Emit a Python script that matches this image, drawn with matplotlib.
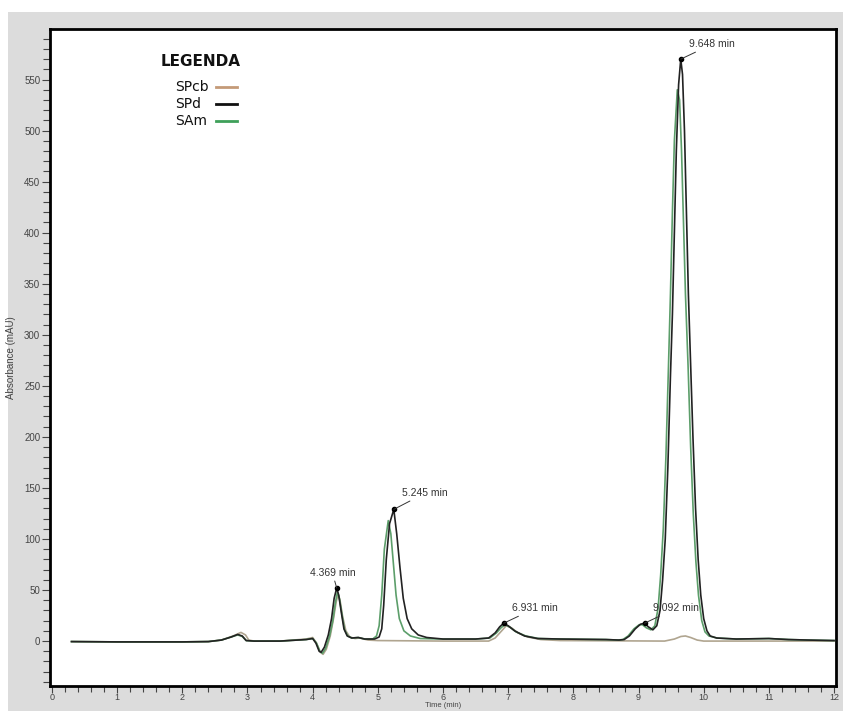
import matplotlib
matplotlib.use("Agg")
from matplotlib import pyplot as plt
from matplotlib.patches import Rectangle

# chromatogram traces (time in min, absorbance in mAU)
spd_t = [0.30, 1.0, 2.0, 2.4, 2.6, 2.75, 2.85, 2.92, 2.98, 3.1, 3.5, 3.9, 4.0, 4.05, 4.1, 4.13,
         4.18, 4.24, 4.29, 4.33, 4.369, 4.40, 4.44, 4.48, 4.53, 4.6, 4.7, 4.8, 4.95, 5.02, 5.06,
         5.09, 5.13, 5.18, 5.245, 5.29, 5.34, 5.39, 5.45, 5.52, 5.62, 5.75, 6.0, 6.5, 6.7, 6.8,
         6.87, 6.931, 7.0, 7.1, 7.25, 7.45, 7.8, 8.5, 8.7, 8.78, 8.86, 8.95, 9.03, 9.092, 9.15,
         9.22, 9.28, 9.33, 9.37, 9.41, 9.45, 9.49, 9.52, 9.55, 9.58, 9.615, 9.648, 9.675, 9.705,
         9.735, 9.765, 9.795, 9.835, 9.875, 9.915, 9.955, 10.0, 10.05, 10.1, 10.2, 10.5, 11.0, 11.3,
         11.6, 12.0]
spd_v = [-0.5, -0.8, -0.8, -0.5, 1, 4, 6.5, 5, 0.5, 0, 0, 1.5, 2.5, -2, -10, -11,
         -6, 6, 22, 42, 52, 45, 28, 12, 5, 3, 3.5, 2, 2, 4, 12,
         35, 80, 115, 129, 105, 72, 42, 22, 12, 6, 3.5, 2, 2, 3, 8,
         14, 17.5, 15, 10, 5, 2.5, 2, 1.5, 1, 1.5, 5, 12, 16.5, 17.5, 14,
         11, 15, 30, 60, 100, 170, 260, 320, 400, 480, 545, 570, 555, 500,
         420, 340, 280, 200, 130, 80, 45, 22, 10, 5, 3, 2, 2.5, 1.5,
         1, 0.5]

sam_t = [0.30, 1.0, 2.0, 2.4, 2.6, 2.75, 2.85, 2.92, 2.98, 3.1, 3.5, 3.9, 4.0, 4.06, 4.11, 4.15,
         4.20, 4.26, 4.31, 4.35, 4.38, 4.41, 4.45, 4.49, 4.54, 4.6, 4.7, 4.8, 4.92, 4.98, 5.02,
         5.06, 5.10, 5.16, 5.20, 5.24, 5.28, 5.33, 5.4, 5.5, 5.65, 6.0, 6.5, 6.72, 6.82, 6.89,
         6.95, 7.02, 7.12, 7.27, 7.47, 7.8, 8.5, 8.68, 8.76, 8.84, 8.93, 9.01, 9.06, 9.12,
         9.19, 9.25, 9.30, 9.34, 9.38, 9.42, 9.46, 9.49, 9.52, 9.55, 9.595, 9.63, 9.66, 9.69,
         9.72, 9.76, 9.80, 9.84, 9.88, 9.92, 9.97, 10.02, 10.08, 10.2, 10.5, 11.0, 11.3,
         11.6, 12.0]
sam_v = [-0.5, -0.8, -0.8, -0.5, 1, 4, 6, 4.5, 0.5, 0, 0, 1.5, 2.5, -2, -10, -12,
         -7, 5, 20, 38, 48, 42, 26, 11, 5, 3, 3.5, 2, 2, 5, 15,
         45, 90, 118, 105, 75, 45, 22, 10, 5, 2.5, 2, 2, 3, 8, 13,
         16, 14, 9, 5, 2.5, 2, 1.5, 1, 1.5, 5, 12, 16, 16, 13,
         11, 15, 32, 65, 110, 180, 270, 340, 420, 490, 540, 530, 480, 410,
         340, 270, 190, 125, 78, 45, 20, 9, 5, 3, 2, 2.5, 1.5,
         1, 0.5]

spcb_t = [0.30, 1.0, 2.0, 2.4, 2.6, 2.78, 2.9, 2.97, 3.02, 3.1, 3.5, 3.9, 4.0, 4.05, 4.12, 4.16,
          4.21, 4.27, 4.32, 4.36, 4.39, 4.42, 4.46, 4.51, 4.57, 4.65, 4.72, 4.85, 5.0, 6.0,
          6.7, 6.8, 6.9, 6.97, 7.05, 7.15, 7.3, 7.5, 7.8, 9.4, 9.55, 9.65, 9.72, 9.8, 9.9,
          10.0, 12.0]
spcb_v = [-0.5, -0.8, -0.8, -0.5, 1, 5, 8.5, 6, 1, 0, 0, 2, 3.5, -1, -11, -13,
          -8, 5, 22, 38, 46, 40, 24, 10, 4, 2.5, 3, 1, 0.5, 0,
          0, 3, 10, 15, 13, 8, 4, 1.5, 0.5, 0, 2, 4.5, 5, 3.5, 1,
          0, 0]

# labelled peaks
peak_t = [4.369, 5.245, 6.931, 9.092, 9.648]
peak_v = [52, 129, 17.5, 17.5, 570]
peak_labels = ["4.369 min", "5.245 min", "6.931 min", "9.092 min", "9.648 min"]
label_offsets = [(-3, 7), (6, 8), (6, 7), (6, 7), (6, 7)]

names = ["SPcb", "SPd", "SAm"]
legend_colors = ["#c49a78", "#111111", "#3fa05a"]

fig = plt.figure(figsize=(8.43, 7.11), dpi=100)
fig.patches.append(Rectangle((8 / 843, 0), 1, 1 - 12 / 711, transform=fig.transFigure,
                             facecolor="#dcdcdc", edgecolor="none", zorder=-10))
ax = fig.add_axes([50 / 843, 1 - 686 / 711, 786 / 843, 657 / 711])
ax.set_facecolor("white")

ax.plot(spcb_t, spcb_v, color="#b0a590", lw=1.2)
ax.plot(sam_t, sam_v, color="#5c9e6a", lw=1.2)
ax.plot(spd_t, spd_v, color="#222222", lw=1.2)

ax.plot(peak_t, peak_v, "o", color="black", ms=3)
for t, v, lab, off in zip(peak_t, peak_v, peak_labels, label_offsets):
    ha = "center" if off[0] < 0 else "left"
    ax.annotate(lab, xy=(t, v), xytext=off, textcoords="offset points", ha=ha, va="bottom",
                fontsize=7.5, family="Liberation Sans", color="#333333",
                arrowprops=dict(arrowstyle="-", color="#333333", lw=0.7, shrinkA=0, shrinkB=0))

ax.set_xlim(-0.03, 12.03)
ax.set_ylim(-44, 599.5)
ax.set_xticks(range(0, 13))
ax.set_xticks([i * 0.2 for i in range(61)], minor=True)
ax.set_yticks(range(0, 551, 50))
ax.set_yticks(range(-40, 600, 10), minor=True)
ax.tick_params(which="both", direction="out", length=6, width=0.8, color="#444444",
               labelsize=7, labelcolor="#444444", pad=1)
ax.tick_params(which="minor", length=5)
ax.tick_params(axis="x", which="major", length=5, pad=0, labelsize=6.5)
ax.tick_params(axis="x", which="minor", length=4)
for lab in ax.get_xticklabels() + ax.get_yticklabels():
    lab.set_family("Liberation Sans")
for s in ax.spines.values():
    s.set_linewidth(2)
ax.set_xlabel("Time (min)", fontsize=5.5, color="#444444", family="Liberation Sans")
ax.xaxis.set_label_coords(0.5, -0.0245)
ax.set_ylabel("Absorbance (mAU)", fontsize=7, color="#444444", family="Liberation Sans",
              labelpad=6)

# legend drawn by hand (text first, line after)
ax.text(0.191, 0.950, "LEGENDA", transform=ax.transAxes, ha="center", va="center",
        fontsize=11, fontweight="bold", color="#111111")
rows = [0.912, 0.886, 0.860]
for name, col, y in zip(names, legend_colors, rows):
    ax.text(0.159, y, name, transform=ax.transAxes, ha="left", va="center",
            fontsize=10, color="#111111")
    ax.plot([0.211, 0.238], [y, y], transform=ax.transAxes, color=col, lw=2)

fig.savefig("out.png", dpi=100)
